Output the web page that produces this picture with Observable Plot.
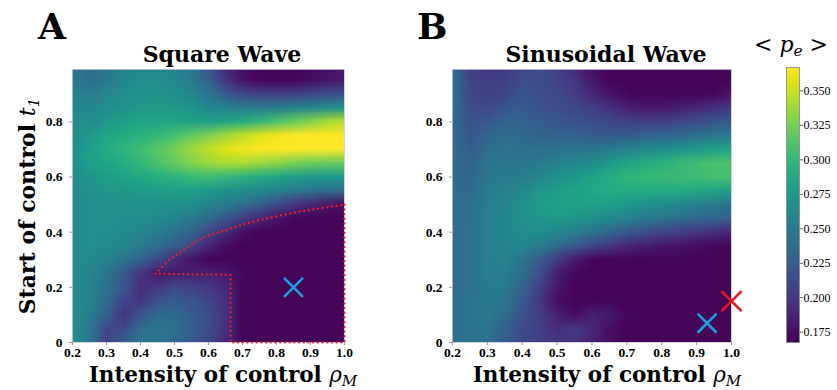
<!DOCTYPE html>
<html>
<head>
<meta charset="utf-8">
<script src="https://cdn.jsdelivr.net/npm/d3@7"></script>
<script src="https://cdn.jsdelivr.net/npm/@observablehq/plot@0.6"></script>
<style>
  html, body { margin: 0; padding: 0; background: white; }
  #wrap { position: relative; width: 837px; height: 390px; overflow: hidden; }
  #wrap > svg, #wrap > figure { position: absolute; left: 0; top: 0; margin: 0; }
</style>
</head>
<body>
<div id="wrap"></div>
<script>
// ---------- data ----------
const xs = [0.2,0.25,0.3,0.35,0.4,0.45,0.5,0.55,0.6,0.65,0.7,0.75,0.8,0.85,0.9,0.95,1.0];
const ys = [1.0,0.95,0.9,0.85,0.8,0.75,0.7,0.65,0.6,0.55,0.5,0.45,0.4,0.35,0.3,0.25,0.2,0.15,0.1,0.05,0.0];

// Square wave <p_e> (rows: ys top to bottom, cols: xs)
const squareValues = [
  [.245,.235,.245,.255,.26,.26,.255,.245,.222,.19,.175,.17,.17,.17,.172,.175,.18],
  [.25,.24,.25,.26,.265,.265,.26,.25,.228,.198,.178,.172,.171,.172,.175,.178,.182],
  [.255,.25,.26,.265,.27,.27,.265,.26,.245,.225,.21,.205,.205,.205,.21,.215,.22],
  [.26,.26,.265,.27,.275,.275,.275,.27,.26,.255,.25,.25,.25,.255,.26,.265,.27],
  [.262,.265,.275,.28,.285,.285,.285,.28,.28,.285,.29,.3,.31,.32,.33,.34,.345],
  [.265,.275,.285,.29,.295,.3,.308,.318,.328,.338,.348,.357,.362,.366,.367,.367,.367],
  [.27,.28,.29,.297,.305,.315,.325,.338,.348,.357,.363,.367,.367,.367,.367,.367,.367],
  [.27,.28,.285,.292,.3,.31,.32,.33,.337,.342,.342,.337,.332,.326,.322,.32,.32],
  [.265,.272,.278,.283,.288,.293,.297,.302,.304,.3,.295,.29,.285,.28,.275,.275,.275],
  [.262,.268,.272,.274,.277,.278,.28,.28,.275,.27,.265,.26,.255,.25,.245,.24,.24],
  [.262,.265,.268,.268,.268,.268,.268,.265,.258,.25,.24,.23,.215,.2,.19,.18,.175],
  [.262,.265,.265,.265,.265,.263,.258,.25,.238,.222,.205,.19,.178,.172,.17,.17,.17],
  [.262,.265,.265,.263,.258,.252,.243,.23,.212,.193,.176,.17,.17,.17,.17,.17,.17],
  [.262,.265,.263,.258,.25,.24,.228,.21,.188,.174,.17,.17,.17,.17,.17,.17,.17],
  [.262,.262,.255,.245,.232,.213,.192,.178,.17,.17,.17,.17,.17,.17,.17,.17,.17],
  [.265,.258,.245,.225,.2,.18,.183,.185,.185,.18,.172,.17,.17,.17,.17,.17,.17],
  [.265,.258,.243,.222,.193,.2,.21,.205,.2,.19,.17,.17,.17,.17,.17,.17,.17],
  [.265,.255,.238,.208,.198,.218,.225,.22,.21,.195,.17,.17,.17,.17,.17,.17,.17],
  [.265,.253,.228,.198,.222,.237,.235,.225,.215,.195,.17,.17,.17,.17,.17,.17,.17],
  [.265,.248,.212,.212,.238,.245,.24,.23,.215,.195,.17,.17,.17,.17,.17,.17,.17],
  [.265,.245,.205,.228,.245,.245,.235,.222,.21,.19,.17,.17,.17,.17,.17,.17,.17]
];

// Sinusoidal wave <p_e>
const sineValues = [
  [.238,.205,.2,.2,.21,.215,.205,.19,.175,.17,.17,.17,.17,.17,.17,.17,.17],
  [.238,.208,.203,.205,.215,.215,.208,.198,.18,.17,.17,.17,.17,.17,.17,.17,.17],
  [.238,.21,.205,.21,.22,.215,.212,.203,.19,.178,.172,.17,.17,.17,.17,.172,.178],
  [.238,.213,.212,.22,.225,.218,.215,.21,.203,.195,.185,.18,.18,.185,.19,.195,.2],
  [.238,.218,.222,.23,.23,.225,.222,.218,.213,.21,.205,.205,.205,.21,.215,.22,.225],
  [.238,.222,.232,.237,.235,.23,.23,.23,.225,.225,.225,.23,.23,.235,.24,.245,.25],
  [.238,.226,.24,.243,.24,.24,.242,.245,.245,.25,.255,.26,.265,.27,.275,.28,.285],
  [.238,.23,.245,.247,.245,.25,.255,.26,.265,.275,.285,.29,.295,.3,.305,.31,.31],
  [.238,.233,.247,.25,.252,.26,.268,.275,.283,.29,.297,.3,.302,.303,.305,.308,.308],
  [.238,.236,.25,.255,.262,.272,.278,.283,.287,.29,.29,.29,.29,.29,.287,.285,.28],
  [.238,.24,.252,.258,.268,.276,.28,.28,.28,.28,.275,.27,.265,.26,.255,.25,.245],
  [.238,.242,.252,.26,.268,.272,.275,.273,.268,.262,.255,.25,.245,.24,.235,.23,.23],
  [.238,.243,.252,.26,.264,.265,.26,.253,.244,.234,.225,.215,.21,.205,.2,.195,.19],
  [.238,.243,.252,.258,.258,.25,.238,.224,.21,.2,.19,.185,.18,.178,.175,.172,.17],
  [.238,.243,.252,.255,.245,.225,.202,.182,.172,.17,.17,.17,.17,.17,.17,.17,.17],
  [.238,.243,.252,.252,.238,.215,.185,.172,.17,.17,.17,.17,.17,.17,.17,.17,.17],
  [.238,.243,.25,.25,.232,.205,.18,.17,.17,.17,.17,.17,.17,.17,.17,.17,.17],
  [.238,.245,.25,.245,.225,.2,.175,.17,.17,.17,.17,.17,.17,.17,.17,.17,.17],
  [.238,.245,.25,.238,.218,.203,.185,.175,.185,.182,.17,.17,.17,.17,.17,.17,.17],
  [.238,.245,.245,.23,.213,.205,.192,.2,.19,.175,.17,.17,.17,.17,.17,.17,.17],
  [.238,.245,.24,.225,.21,.205,.2,.198,.185,.175,.17,.17,.17,.17,.17,.17,.17]
];

// red dotted region boundary (panel A)
const curveX = [0.444,0.488,0.537,0.586,0.645,0.704,0.782,0.88,0.978,1.0];
const curveY = [0.25,0.302,0.344,0.381,0.405,0.429,0.453,0.477,0.496,0.5];
const edgeX = [1.0,1.0,0.665,0.665,0.444];
const edgeY = [0.5,0.0,0.0,0.245,0.25];

// markers
const blueAX = [0.85], blueAY = [0.2];
const blueBX = [0.93], blueBY = [0.07];
const redBX = [1.0],   redBY = [0.15];

// ticks
const xTicks = [0.2,0.3,0.4,0.5,0.6,0.7,0.8,0.9,1.0];
const yTicks = [0,0.2,0.4,0.6,0.8];
const cbTicks = [0.175,0.2,0.225,0.25,0.275,0.3,0.325,0.35];
const colorDomain = [0.1675, 0.367];

// ---------- drawing ----------
const W = 837, H = 390;
const wrap = document.getElementById("wrap");
const colorScale = {type: "linear", scheme: "viridis", domain: colorDomain, clamp: true};
const pts = (X, Y) => X.map((x, i) => ({x, y: Y[i]}));
const half = 0.025; // half grid step: grid values sit at pixel centres
const TF = 13.5; // tick font size

function panel(values, left, right, extra) {
  // raster rows run from y1 (bottom) upward
  const flat = values.slice().reverse().flat();
  return Plot.plot({
    width: W, height: H,
    marginLeft: left, marginRight: W - right, marginTop: 69, marginBottom: H - 342,
    style: {background: "transparent", color: "black", fontFamily: "'Liberation Serif', serif", fontSize: TF + "px", fontWeight: "bold"},
    x: {domain: [0.2, 1.0]},
    y: {domain: [0, 0.99]},
    color: colorScale,
    marks: [
      Plot.raster(flat, {width: xs.length, height: ys.length, fill: d => d,
        x1: xs[0] - half, x2: xs[xs.length - 1] + half,
        y1: ys[ys.length - 1] - half, y2: ys[0] + half,
        imageRendering: "auto", clip: true}),
      Plot.frame({stroke: "#c8c8d8", strokeWidth: 0.8}),
      Plot.axisX(xTicks, {tickSize: 3, tickPadding: 2, stroke: "#999", fill: "black",
        fontSize: TF, fontFamily: "Liberation Serif", fontWeight: "bold",
        tickFormat: d => d.toFixed(1), label: null}),
      Plot.axisY(yTicks, {tickSize: 3, tickPadding: 7, stroke: "#999", fill: "black",
        fontSize: TF, fontFamily: "Liberation Serif", fontWeight: "bold",
        tickFormat: d => d === 0 ? "0" : d.toFixed(1), label: null}),
      ...extra
    ]
  });
}

const dotted = {x: "x", y: "y", stroke: "#e8202a", strokeWidth: 2.2, strokeDasharray: "0.1,4.6", strokeLinecap: "round"};
const plotA = panel(squareValues, 72, 344, [
  Plot.line(pts(curveX, curveY), {...dotted, curve: "catmull-rom"}),
  Plot.line(pts(edgeX, edgeY), dotted),
  Plot.dot(pts(blueAX, blueAY), {x: "x", y: "y", symbol: "times", r: 8.7, stroke: "#1ea0e0", strokeWidth: 2.6})
]);
const plotB = panel(sineValues, 452, 731, [
  Plot.dot(pts(blueBX, blueBY), {x: "x", y: "y", symbol: "times", r: 8.7, stroke: "#1ea0e0", strokeWidth: 2.6}),
  Plot.dot(pts(redBX, redBY), {x: "x", y: "y", symbol: "times", r: 9.2, stroke: "#e8161e", strokeWidth: 2.6})
]);

const colorbar = Plot.plot({
  width: W, height: H,
  marginLeft: 786, marginRight: W - 799, marginTop: 67, marginBottom: H - 342,
  style: {background: "transparent", color: "black", fontFamily: "'Liberation Serif', serif", fontSize: "12px"},
  x: {domain: [0, 1], axis: null},
  y: {domain: colorDomain, axis: null},
  color: colorScale,
  marks: [
    Plot.raster({fill: (x, y) => y, x1: 0, x2: 1, y1: colorDomain[0], y2: colorDomain[1]}),
    Plot.frame({stroke: "#888", strokeWidth: 0.8}),
    Plot.axisY(cbTicks, {anchor: "right", tickSize: 3, tickPadding: 1, stroke: "#666", fill: "black",
      fontSize: 12, fontFamily: "Liberation Serif",
      tickFormat: d => d.toFixed(3), label: null})
  ]
});

// force tick-label fonts with inline styles
for (const p of [plotA, plotB]) {
  d3.select(p).selectAll("text")
    .attr("font-family", "Liberation Serif").attr("font-weight", "bold").attr("font-size", TF)
    .style("font-family", "'Liberation Serif', serif")
    .style("font-weight", "bold")
    .style("font-size", TF + "px");
}
d3.select(colorbar).selectAll("text")
  .attr("font-family", "Liberation Serif").attr("font-size", 12)
  .style("font-family", "'Liberation Serif', serif")
  .style("font-weight", "normal")
  .style("font-size", "12px");

wrap.append(plotA, plotB, colorbar);

// ---------- text labels ----------
const svg = d3.create("svg").attr("width", W).attr("height", H)
  .attr("font-family", "DejaVu Serif").style("overflow", "visible");

function label(x, y, parts, size, weight, anchor = "middle", rotate = 0) {
  const t = svg.append("text").attr("x", x).attr("y", y)
    .attr("font-size", size).attr("font-weight", weight).attr("text-anchor", anchor);
  if (rotate) t.attr("transform", `rotate(${rotate},${x},${y})`);
  for (const p of parts) {
    const s = t.append("tspan").text(p.t);
    if (p.italic) s.attr("font-style", "italic").attr("font-weight", "normal");
    if (p.sub) s.attr("font-size", size * 0.7).attr("dy", size * 0.2);
    if (p.up) s.attr("dy", -size * 0.2);
  }
}

label(38, 39, [{t: "A"}], 36, "bold", "start");
label(417, 39, [{t: "B"}], 36, "bold", "start");
label(222, 62, [{t: "Square Wave"}], 22, "bold");
label(606, 62, [{t: "Sinusoidal Wave"}], 22, "bold");
const xl = [{t: "Intensity of control "}, {t: "ρ", italic: true}, {t: "M", italic: true, sub: true}];
label(223, 382, xl, 21.5, "bold");
label(607, 382, xl, 21.5, "bold");
label(35, 206, [{t: "Start of control "}, {t: "t", italic: true}, {t: "1", italic: true, sub: true}], 22, "bold", "middle", -90);
label(791, 52, [{t: "< "}, {t: "p", italic: true}, {t: "e", italic: true, sub: true}, {t: " >", up: true}], 22, "normal");

wrap.append(svg.node());
</script>
</body>
</html>
